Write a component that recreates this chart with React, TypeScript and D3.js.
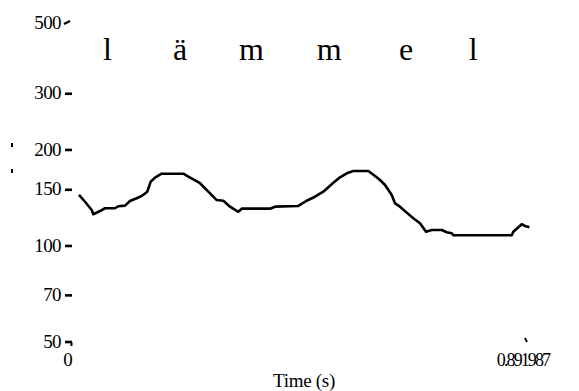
import React from 'react';
import * as d3 from 'd3';

// pitch contour (time in s, F0 in Hz)
const times = [
  0.0176, 0.0293, 0.0424, 0.0455, 0.0586, 0.0683, 0.0878, 0.0943, 0.1074, 0.1171,
  0.1302, 0.14, 0.1509, 0.1575, 0.1659, 0.179, 0.2212, 0.2309, 0.2407, 0.2538,
  0.27, 0.2864, 0.2992, 0.3123, 0.3285, 0.3352, 0.3904, 0.4002, 0.4456, 0.4619,
  0.4782, 0.4944, 0.514, 0.527, 0.5401, 0.553, 0.5823, 0.5954, 0.6051, 0.6149,
  0.628, 0.6344, 0.6441, 0.6572, 0.6701, 0.6832, 0.6949, 0.706, 0.7256, 0.7353,
  0.7451, 0.7482, 0.8622, 0.8653, 0.8817, 0.8882, 0.8966
];
const pitch = [
  144.5, 137.6, 129.6, 125.7, 128.7, 131.3, 131.3, 133.2, 133.8, 138.3,
  141.1, 143.5, 148, 159.1, 163.7, 168.5, 168.5, 164.9, 161.8, 157.3,
  148, 139.3, 138.6, 132.8, 128, 130.9, 130.9, 132.8, 133.5, 138.6,
  142.7, 148, 157.9, 164.2, 169, 171.8, 171.8, 165.7, 161, 155.3,
  144.5, 136, 132.8, 127.2, 122.1, 117.8, 110.8, 112.2, 112.2, 110.4,
  109.6, 108, 108, 110.8, 117, 115.5, 114.4
];

const phonemes = ['l', 'ä', 'm', 'm', 'e', 'l'];
const phonemeTimes = [0.073, 0.215, 0.354, 0.506, 0.656, 0.787];

const yTicks = [50, 70, 100, 150, 200, 300, 500];
const tEnd = 0.891987;

const W = 579;
const H = 391;

export default function App() {
  const x = d3.scaleLinear().domain([0, tEnd]).range([70, 527]);
  const y = d3.scaleLog().domain([50, 500]).range([342, 23]);

  const pts = times.map((t, i) => [t, pitch[i]] as [number, number]);
  const line = d3.line<[number, number]>()
    .x(d => x(d[0]))
    .y(d => y(d[1]));

  const font = '"Liberation Serif", "Times New Roman", serif';

  return (
    <svg width={W} height={H} style={{ position: 'absolute', left: 0, top: 0, background: '#fff' }}
      fontFamily={font}>
      <rect width={W} height={H} fill="#fff" />

      {/* phoneme labels */}
      {phonemes.map((p, i) => (
        <text key={i} x={x(phonemeTimes[i])} y={60} fontSize={32} textAnchor="middle" fill="#000">
          {p}
        </text>
      ))}

      {/* y ticks */}
      {yTicks.map(v => (
        <g key={v}>
          <text x={61} y={y(v) - 1} dy="0.35em" fontSize={19} textAnchor="end" letterSpacing={-0.6} fill="#000">
            {v}
          </text>
          {v === 500 ? (
            <line x1={64} y1={y(v) + 1} x2={70} y2={y(v) - 2} stroke="#000" strokeWidth={2.4} />
          ) : (
            <line x1={65} y1={y(v)} x2={72} y2={y(v)} stroke="#000" strokeWidth={2.6} />
          )}
        </g>
      ))}
      <line x1={71.5} y1={y(50)} x2={71.5} y2={y(50) + 4} stroke="#000" strokeWidth={2} />

      {/* leftover marks of the vertical axis title */}
      <rect x={11} y={143} width={2} height={4} fill="#000" />
      <rect x={11} y={169} width={2} height={4} fill="#000" />

      {/* x axis */}
      <text x={68} y={366} fontSize={19} textAnchor="middle" fill="#000">0</text>
      <text x={523} y={366} fontSize={18} textAnchor="middle" letterSpacing={-1.9} fill="#000">
        {String(tEnd)}
      </text>
      <line x1={x(tEnd) - 2} y1={y(50) - 4} x2={x(tEnd)} y2={y(50)} stroke="#000" strokeWidth={1.8} />
      <text x={304} y={387} fontSize={19} textAnchor="middle" letterSpacing={-0.3} fill="#000">Time (s)</text>

      {/* pitch contour */}
      <path d={line(pts) ?? ''} fill="none" stroke="#000" strokeWidth={2.6} strokeLinejoin="round" />
    </svg>
  );
}
